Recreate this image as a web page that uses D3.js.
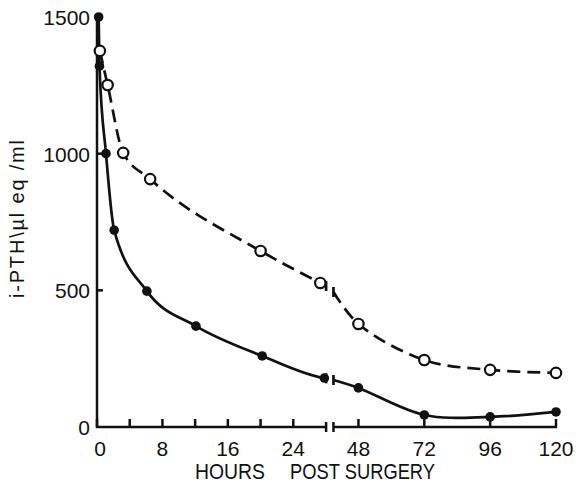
<!DOCTYPE html>
<html>
<head>
<meta charset="utf-8">
<script src="https://cdn.jsdelivr.net/npm/d3@7"></script>
<style>
  body { margin: 0; background: #fff; }
  text { font-family: "Liberation Sans", Arial, sans-serif; fill: #111; }
</style>
</head>
<body>
<svg id="chart" width="578" height="485"></svg>
<script>
// hours after surgery and i-PTH values
const hoursSolid = [0.2, 0.3, 1.1, 2.1, 6.1, 12.1, 20.2, 27.8];
const pthSolid = [1500, 1320, 1000, 720, 497, 369, 260, 179];
const hoursSolidLate = [48, 72, 96, 120];
const pthSolidLate = [143, 44, 37, 55];

const hoursDashed = [0.35, 1.3, 3.2, 6.5, 20, 27.3];
const pthDashed = [1376, 1251, 1003, 907, 644, 527];
const hoursDashedLate = [48, 72, 96, 120];
const pthDashedLate = [377, 245, 209, 198];

// where the lines are cut by the axis break
const breakHours = [28.2, 38.9];
const solidBreak = [178, 172];
const dashedBreak = [516, 494];

const xTicksEarly = [0, 4, 8, 12, 16, 20, 24];
const xLabelsEarly = [0, 8, 16, 24];
const xTicksLate = [48, 72, 96, 120];
const yTicks = [0, 500, 1000, 1500];

const svg = d3.select('#chart');

const x = d3.scaleLinear()
  .domain([0, 28, 38, 120])
  .range([97, 326, 331, 556]);
const y = d3.scaleLinear()
  .domain([0, 1500])
  .range([427, 17]);

const zip = (hs, vs) => hs.map((h, i) => ({h: h, v: vs[i]}));

const solidEarly = zip(hoursSolid, pthSolid);
const solidLate = zip(hoursSolidLate, pthSolidLate);
const dashedEarly = zip(hoursDashed, pthDashed);
const dashedLate = zip(hoursDashedLate, pthDashedLate);

// axes
const axisG = svg.append('g').attr('stroke', '#111').attr('stroke-width', 2.5);

axisG.append('line')
  .attr('x1', x(0)).attr('x2', x(0))
  .attr('y1', y(0) + 1).attr('y2', y(1500));
axisG.append('line')
  .attr('x1', x(0) - 1).attr('x2', x(breakHours[0]))
  .attr('y1', y(0)).attr('y2', y(0));
axisG.append('line')
  .attr('x1', x(breakHours[1])).attr('x2', x(120) + 1)
  .attr('y1', y(0)).attr('y2', y(0));

// break bars on axis
axisG.selectAll('.axbreak')
  .data(breakHours)
  .enter()
  .append('line')
  .attr('x1', (h) => x(h)).attr('x2', (h) => x(h))
  .attr('y1', y(0) - 5).attr('y2', y(0) + 5);

// x ticks
axisG.selectAll('.xtick')
  .data(xTicksEarly.concat(xTicksLate))
  .enter()
  .append('line')
  .attr('x1', (h) => x(h)).attr('x2', (h) => x(h))
  .attr('y1', y(0)).attr('y2', y(0) - 8);

// y ticks
axisG.selectAll('.ytick')
  .data([500, 1000])
  .enter()
  .append('line')
  .attr('x1', x(0)).attr('x2', x(0) + 6)
  .attr('y1', (v) => y(v)).attr('y2', (v) => y(v));

svg.selectAll('.xlabel')
  .data(xLabelsEarly.concat(xTicksLate))
  .enter()
  .append('text')
  .attr('x', (h) => x(h) + (h === 0 ? 3 : 0))
  .attr('y', 456)
  .attr('text-anchor', 'middle')
  .style('font-size', '21px')
  .text((h) => h);

svg.selectAll('.ylabel')
  .data(yTicks)
  .enter()
  .append('text')
  .attr('x', 90)
  .attr('y', (v) => y(v) + 8)
  .attr('text-anchor', 'end')
  .style('font-size', '21px')
  .text((v) => v);

svg.append('text')
  .attr('x', 195).attr('y', 479)
  .attr('textLength', 70)
  .attr('lengthAdjust', 'spacingAndGlyphs')
  .style('font-size', '22px')
  .text('HOURS');
svg.append('text')
  .attr('x', 290).attr('y', 479)
  .attr('textLength', 145)
  .attr('lengthAdjust', 'spacingAndGlyphs')
  .style('font-size', '22px')
  .text('POST SURGERY');

svg.append('text')
  .attr('transform', 'translate(24,298) rotate(-90)')
  .attr('textLength', 158)
  .style('font-size', '20px')
  .text('i-PTH\\\u00b5l eq /ml');

// lines
const lineMono = d3.line()
  .x((d) => x(d.h)).y((d) => y(d.v))
  .curve(d3.curveMonotoneX);
const lineCR = d3.line()
  .x((d) => x(d.h)).y((d) => y(d.v))
  .curve(d3.curveCatmullRom.alpha(0.5));

const solidLeft = solidEarly.concat([{h: breakHours[0], v: solidBreak[0]}]);
const solidRight = [{h: breakHours[1], v: solidBreak[1]}].concat(solidLate);
const dashedLeft = dashedEarly.concat([{h: breakHours[0], v: dashedBreak[0]}]);
const dashedRight = [{h: breakHours[1], v: dashedBreak[1]}].concat(dashedLate);

const lineG = svg.append('g')
  .attr('fill', 'none')
  .attr('stroke', '#111')
  .attr('stroke-width', 2.7);

lineG.append('path').attr('d', lineMono(solidLeft));
lineG.append('path').attr('d', lineCR(solidRight));
lineG.append('path').attr('d', lineMono(dashedLeft)).attr('stroke-dasharray', '13,7');
lineG.append('path').attr('d', lineCR(dashedRight)).attr('stroke-dasharray', '13,7');

// break bars on the curves
const curveBreaks = [
  {h: breakHours[0], v: solidBreak[0]},
  {h: breakHours[1], v: solidBreak[1]},
  {h: breakHours[0], v: dashedBreak[0]},
  {h: breakHours[1], v: dashedBreak[1]},
];
lineG.selectAll('.cbreak')
  .data(curveBreaks)
  .enter()
  .append('line')
  .attr('x1', (d) => x(d.h)).attr('x2', (d) => x(d.h))
  .attr('y1', (d) => y(d.v) - 5).attr('y2', (d) => y(d.v) + 5);

// markers
svg.selectAll('.open')
  .data(dashedEarly.concat(dashedLate))
  .enter()
  .append('circle')
  .attr('cx', (d) => x(d.h))
  .attr('cy', (d) => y(d.v))
  .attr('r', 5.2)
  .style('fill', '#fff')
  .style('stroke', '#111')
  .style('stroke-width', 2.2);

svg.selectAll('.filled')
  .data(solidEarly.concat(solidLate))
  .enter()
  .append('circle')
  .attr('cx', (d) => x(d.h))
  .attr('cy', (d) => y(d.v))
  .attr('r', 4.8)
  .style('fill', '#111');
</script>
</body>
</html>
